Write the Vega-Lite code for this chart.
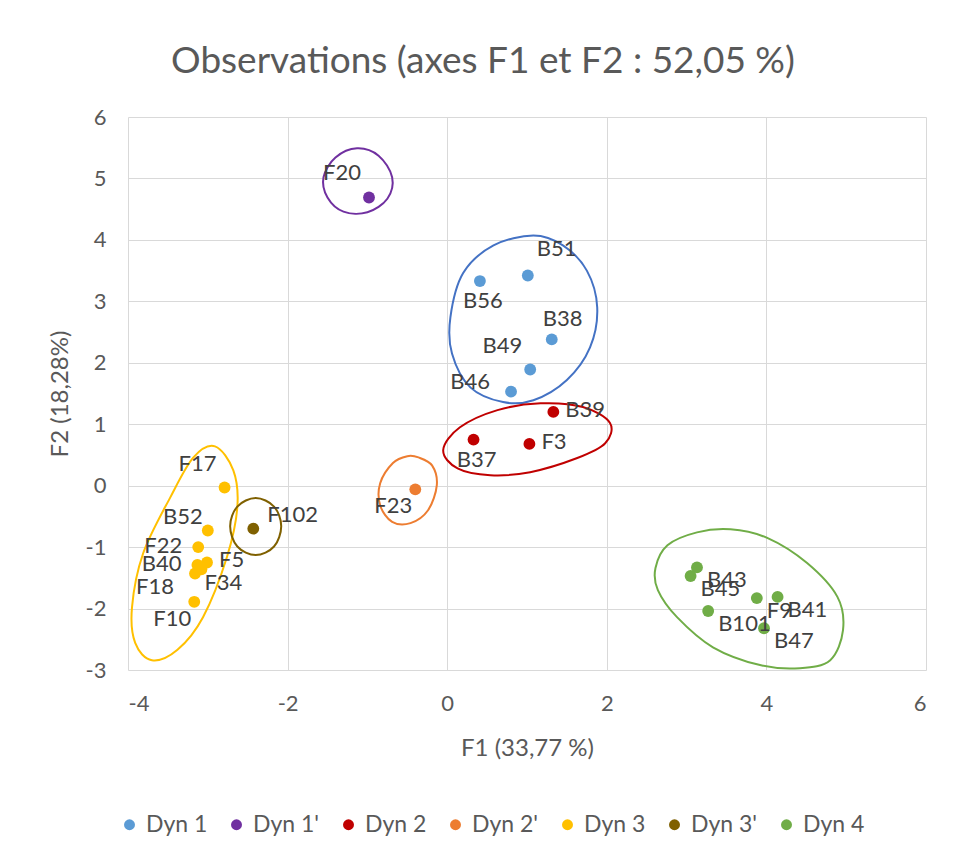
{
  "$schema": "https://vega.github.io/schema/vega-lite/v6.json",
  "width": 798,
  "height": 553,
  "autosize": {"type": "none"},
  "padding": {"left": 128, "top": 117, "right": 29, "bottom": 191},
  "background": "#FFFFFF",
  "title": {"text": "Observations (axes F1 et F2 : 52,05 %)", "anchor": "middle", "frame": "group", "dx": -44, "dy": 46, "offset": 34, "baseline": "bottom", "fontSize": 37, "font": "Lato", "fontWeight": "normal", "color": "#595959"},
  "config": {
    "view": {"stroke": null},
    "font": "Lato",
    "axis": {"grid": true, "gridColor": "#D9D9D9", "gridWidth": 1, "domain": false, "ticks": false, "labelFont": "Lato", "labelFontSize": 22, "labelColor": "#595959", "titleFont": "Lato", "titleFontSize": 24, "titleColor": "#595959", "titleFontWeight": "normal", "labelExpr": "'' + datum.value"}
  },
  "datasets": {
    "pts": [
      {"lab": "B51", "grp": "Dyn 1", "f1": 1.01, "f2": 3.42},
      {"lab": "B56", "grp": "Dyn 1", "f1": 0.41, "f2": 3.33},
      {"lab": "B38", "grp": "Dyn 1", "f1": 1.31, "f2": 2.38},
      {"lab": "B49", "grp": "Dyn 1", "f1": 1.04, "f2": 1.89},
      {"lab": "B46", "grp": "Dyn 1", "f1": 0.80, "f2": 1.53},
      {"lab": "F20", "grp": "Dyn 1'", "f1": -0.98, "f2": 4.69},
      {"lab": "B39", "grp": "Dyn 2", "f1": 1.33, "f2": 1.20},
      {"lab": "B37", "grp": "Dyn 2", "f1": 0.33, "f2": 0.75},
      {"lab": "F3", "grp": "Dyn 2", "f1": 1.03, "f2": 0.68},
      {"lab": "F23", "grp": "Dyn 2'", "f1": -0.40, "f2": -0.06},
      {"lab": "F17", "grp": "Dyn 3", "f1": -2.79, "f2": -0.03},
      {"lab": "B52", "grp": "Dyn 3", "f1": -3.00, "f2": -0.73},
      {"lab": "F22", "grp": "Dyn 3", "f1": -3.12, "f2": -1.00},
      {"lab": "F5", "grp": "Dyn 3", "f1": -3.01, "f2": -1.25},
      {"lab": "B40", "grp": "Dyn 3", "f1": -3.13, "f2": -1.29},
      {"lab": "F34", "grp": "Dyn 3", "f1": -3.08, "f2": -1.36},
      {"lab": "F18", "grp": "Dyn 3", "f1": -3.16, "f2": -1.43},
      {"lab": "F10", "grp": "Dyn 3", "f1": -3.17, "f2": -1.89},
      {"lab": "F102", "grp": "Dyn 3'", "f1": -2.43, "f2": -0.70},
      {"lab": "B43", "grp": "Dyn 4", "f1": 3.13, "f2": -1.33},
      {"lab": "B45", "grp": "Dyn 4", "f1": 3.05, "f2": -1.47},
      {"lab": "F9", "grp": "Dyn 4", "f1": 3.88, "f2": -1.83},
      {"lab": "B41", "grp": "Dyn 4", "f1": 4.14, "f2": -1.81},
      {"lab": "B101", "grp": "Dyn 4", "f1": 3.27, "f2": -2.04},
      {"lab": "B47", "grp": "Dyn 4", "f1": 3.97, "f2": -2.32}
    ],
    "ell": [
      {"ellgrp": "Dyn 1", "k": 1, "f1": 1.08, "f2": 4.07},
      {"ellgrp": "Dyn 1", "k": 2, "f1": 1.45, "f2": 3.91},
      {"ellgrp": "Dyn 1", "k": 3, "f1": 1.75, "f2": 3.50},
      {"ellgrp": "Dyn 1", "k": 4, "f1": 1.88, "f2": 2.90},
      {"ellgrp": "Dyn 1", "k": 5, "f1": 1.79, "f2": 2.25},
      {"ellgrp": "Dyn 1", "k": 6, "f1": 1.50, "f2": 1.72},
      {"ellgrp": "Dyn 1", "k": 7, "f1": 1.08, "f2": 1.39},
      {"ellgrp": "Dyn 1", "k": 8, "f1": 0.70, "f2": 1.36},
      {"ellgrp": "Dyn 1", "k": 9, "f1": 0.29, "f2": 1.60},
      {"ellgrp": "Dyn 1", "k": 10, "f1": 0.06, "f2": 2.15},
      {"ellgrp": "Dyn 1", "k": 11, "f1": 0.04, "f2": 2.74},
      {"ellgrp": "Dyn 1", "k": 12, "f1": 0.20, "f2": 3.46},
      {"ellgrp": "Dyn 1", "k": 13, "f1": 0.58, "f2": 3.91},
      {"ellgrp": "Dyn 1'", "k": 1, "f1": -1.13, "f2": 5.49},
      {"ellgrp": "Dyn 1'", "k": 2, "f1": -0.86, "f2": 5.37},
      {"ellgrp": "Dyn 1'", "k": 3, "f1": -0.69, "f2": 5.02},
      {"ellgrp": "Dyn 1'", "k": 4, "f1": -0.75, "f2": 4.67},
      {"ellgrp": "Dyn 1'", "k": 5, "f1": -1.00, "f2": 4.45},
      {"ellgrp": "Dyn 1'", "k": 6, "f1": -1.30, "f2": 4.46},
      {"ellgrp": "Dyn 1'", "k": 7, "f1": -1.50, "f2": 4.69},
      {"ellgrp": "Dyn 1'", "k": 8, "f1": -1.55, "f2": 5.02},
      {"ellgrp": "Dyn 1'", "k": 9, "f1": -1.40, "f2": 5.34},
      {"ellgrp": "Dyn 2", "k": 1, "f1": -0.05, "f2": 0.58},
      {"ellgrp": "Dyn 2", "k": 2, "f1": 0.16, "f2": 0.95},
      {"ellgrp": "Dyn 2", "k": 3, "f1": 0.63, "f2": 1.23},
      {"ellgrp": "Dyn 2", "k": 4, "f1": 1.17, "f2": 1.34},
      {"ellgrp": "Dyn 2", "k": 5, "f1": 1.70, "f2": 1.28},
      {"ellgrp": "Dyn 2", "k": 6, "f1": 2.04, "f2": 1.02},
      {"ellgrp": "Dyn 2", "k": 7, "f1": 1.98, "f2": 0.69},
      {"ellgrp": "Dyn 2", "k": 8, "f1": 1.63, "f2": 0.45},
      {"ellgrp": "Dyn 2", "k": 9, "f1": 1.04, "f2": 0.22},
      {"ellgrp": "Dyn 2", "k": 10, "f1": 0.54, "f2": 0.17},
      {"ellgrp": "Dyn 2", "k": 11, "f1": 0.13, "f2": 0.28},
      {"ellgrp": "Dyn 2'", "k": 1, "f1": -0.36, "f2": 0.46},
      {"ellgrp": "Dyn 2'", "k": 2, "f1": -0.19, "f2": 0.33},
      {"ellgrp": "Dyn 2'", "k": 3, "f1": -0.13, "f2": 0.01},
      {"ellgrp": "Dyn 2'", "k": 4, "f1": -0.24, "f2": -0.40},
      {"ellgrp": "Dyn 2'", "k": 5, "f1": -0.46, "f2": -0.61},
      {"ellgrp": "Dyn 2'", "k": 6, "f1": -0.69, "f2": -0.59},
      {"ellgrp": "Dyn 2'", "k": 7, "f1": -0.84, "f2": -0.32},
      {"ellgrp": "Dyn 2'", "k": 8, "f1": -0.84, "f2": 0.04},
      {"ellgrp": "Dyn 2'", "k": 9, "f1": -0.68, "f2": 0.37},
      {"ellgrp": "Dyn 2'", "k": 10, "f1": -0.50, "f2": 0.48},
      {"ellgrp": "Dyn 3", "k": 1, "f1": -2.91, "f2": 0.64},
      {"ellgrp": "Dyn 3", "k": 2, "f1": -2.68, "f2": 0.25},
      {"ellgrp": "Dyn 3", "k": 3, "f1": -2.63, "f2": -0.35},
      {"ellgrp": "Dyn 3", "k": 4, "f1": -2.76, "f2": -1.16},
      {"ellgrp": "Dyn 3", "k": 5, "f1": -3.06, "f2": -2.14},
      {"ellgrp": "Dyn 3", "k": 6, "f1": -3.38, "f2": -2.67},
      {"ellgrp": "Dyn 3", "k": 7, "f1": -3.70, "f2": -2.84},
      {"ellgrp": "Dyn 3", "k": 8, "f1": -3.91, "f2": -2.56},
      {"ellgrp": "Dyn 3", "k": 9, "f1": -3.95, "f2": -1.98},
      {"ellgrp": "Dyn 3", "k": 10, "f1": -3.81, "f2": -1.10},
      {"ellgrp": "Dyn 3", "k": 11, "f1": -3.47, "f2": -0.19},
      {"ellgrp": "Dyn 3", "k": 12, "f1": -3.18, "f2": 0.46},
      {"ellgrp": "Dyn 3'", "k": 1, "f1": -2.40, "f2": -0.20},
      {"ellgrp": "Dyn 3'", "k": 2, "f1": -2.17, "f2": -0.34},
      {"ellgrp": "Dyn 3'", "k": 3, "f1": -2.08, "f2": -0.66},
      {"ellgrp": "Dyn 3'", "k": 4, "f1": -2.17, "f2": -0.99},
      {"ellgrp": "Dyn 3'", "k": 5, "f1": -2.40, "f2": -1.13},
      {"ellgrp": "Dyn 3'", "k": 6, "f1": -2.63, "f2": -0.99},
      {"ellgrp": "Dyn 3'", "k": 7, "f1": -2.72, "f2": -0.66},
      {"ellgrp": "Dyn 3'", "k": 8, "f1": -2.63, "f2": -0.34},
      {"ellgrp": "Dyn 4", "k": 1, "f1": 2.61, "f2": -1.34},
      {"ellgrp": "Dyn 4", "k": 2, "f1": 2.76, "f2": -0.97},
      {"ellgrp": "Dyn 4", "k": 3, "f1": 3.13, "f2": -0.76},
      {"ellgrp": "Dyn 4", "k": 4, "f1": 3.55, "f2": -0.71},
      {"ellgrp": "Dyn 4", "k": 5, "f1": 4.01, "f2": -0.85},
      {"ellgrp": "Dyn 4", "k": 6, "f1": 4.51, "f2": -1.26},
      {"ellgrp": "Dyn 4", "k": 7, "f1": 4.89, "f2": -1.81},
      {"ellgrp": "Dyn 4", "k": 8, "f1": 4.96, "f2": -2.35},
      {"ellgrp": "Dyn 4", "k": 9, "f1": 4.80, "f2": -2.84},
      {"ellgrp": "Dyn 4", "k": 10, "f1": 4.42, "f2": -2.97},
      {"ellgrp": "Dyn 4", "k": 11, "f1": 3.92, "f2": -2.92},
      {"ellgrp": "Dyn 4", "k": 12, "f1": 3.33, "f2": -2.63},
      {"ellgrp": "Dyn 4", "k": 13, "f1": 2.88, "f2": -2.14},
      {"ellgrp": "Dyn 4", "k": 14, "f1": 2.64, "f2": -1.70}
    ]
  },
  "encoding": {
    "x": {"field": "f1", "type": "quantitative", "scale": {"domain": [-4, 6], "nice": false, "zero": false}, "axis": {"values": [-4, -2, 0, 2, 4, 6], "title": "F1 (33,77 %)", "labelPadding": 23, "titlePadding": 22}},
    "y": {"field": "f2", "type": "quantitative", "scale": {"domain": [-3, 6], "nice": false, "zero": false}, "axis": {"values": [-3, -2, -1, 0, 1, 2, 3, 4, 5, 6], "title": "F2 (18,28%)", "labelPadding": 22, "titlePadding": 13}}
  },
  "layer": [
    {
      "data": {"name": "ell"},
      "mark": {"type": "line", "interpolate": "cardinal-closed", "strokeWidth": 2},
      "encoding": {
        "stroke": {"field": "ellgrp", "type": "nominal", "legend": null, "scale": {"range": ["#4472C4", "#7030A0", "#C00000", "#ED7D31", "#FFC000", "#7F6000", "#70AD47"]}},
        "detail": {"field": "ellgrp"},
        "order": {"field": "k", "type": "quantitative"}
      }
    },
    {
      "data": {"name": "pts"},
      "mark": {"type": "point", "shape": "circle", "filled": true, "opacity": 1, "size": 140},
      "encoding": {
        "color": {"field": "grp", "type": "nominal", "title": null, "scale": {"domain": ["Dyn 1", "Dyn 1'", "Dyn 2", "Dyn 2'", "Dyn 3", "Dyn 3'", "Dyn 4"], "range": ["#5B9BD5", "#7030A0", "#C00000", "#ED7D31", "#FFC000", "#7F6000", "#70AD47"]},
          "legend": {"orient": "none", "direction": "horizontal", "legendX": -10, "legendY": 696, "symbolType": "circle", "symbolSize": 120, "labelFontSize": 23, "labelFont": "Lato", "labelColor": "#595959", "columnPadding": 17, "labelOffset": 5}}
      }
    },
    {"data": {"name": "pts"}, "transform": [{"filter": {"field": "lab", "oneOf": ["B43", "B45", "F9", "B41", "B101", "B47"]}}], "mark": {"type": "text", "align": "left", "baseline": "middle", "dx": 10, "dy": 13, "fontSize": 22, "font": "Lato", "color": "#404040"}, "encoding": {"text": {"field": "lab"}}},
    {"data": {"name": "pts"}, "transform": [{"filter": {"field": "lab", "oneOf": ["B39", "F3", "F5"]}}], "mark": {"type": "text", "align": "left", "baseline": "middle", "dx": 12, "dy": -2, "fontSize": 22, "font": "Lato", "color": "#404040"}, "encoding": {"text": {"field": "lab"}}},
    {"data": {"name": "pts"}, "transform": [{"filter": {"field": "lab", "oneOf": ["F34"]}}], "mark": {"type": "text", "align": "left", "baseline": "middle", "dx": 3, "dy": 14, "fontSize": 22, "font": "Lato", "color": "#404040"}, "encoding": {"text": {"field": "lab"}}},
    {"data": {"name": "pts"}, "transform": [{"filter": {"field": "lab", "oneOf": ["F102"]}}], "mark": {"type": "text", "align": "left", "baseline": "middle", "dx": 14, "dy": -14, "fontSize": 22, "font": "Lato", "color": "#404040"}, "encoding": {"text": {"field": "lab"}}},
    {"data": {"name": "pts"}, "transform": [{"filter": {"field": "lab", "oneOf": ["B51"]}}], "mark": {"type": "text", "align": "left", "baseline": "middle", "dx": 9, "dy": -27, "fontSize": 22, "font": "Lato", "color": "#404040"}, "encoding": {"text": {"field": "lab"}}},
    {"data": {"name": "pts"}, "transform": [{"filter": {"field": "lab", "oneOf": ["B38"]}}], "mark": {"type": "text", "align": "center", "baseline": "middle", "dx": 11, "dy": -20, "fontSize": 22, "font": "Lato", "color": "#404040"}, "encoding": {"text": {"field": "lab"}}},
    {"data": {"name": "pts"}, "transform": [{"filter": {"field": "lab", "oneOf": ["B56", "B37"]}}], "mark": {"type": "text", "align": "center", "baseline": "middle", "dx": 3, "dy": 20, "fontSize": 22, "font": "Lato", "color": "#404040"}, "encoding": {"text": {"field": "lab"}}},
    {"data": {"name": "pts"}, "transform": [{"filter": {"field": "lab", "oneOf": ["B49", "F20", "F17"]}}], "mark": {"type": "text", "align": "right", "baseline": "middle", "dx": -8, "dy": -24, "fontSize": 22, "font": "Lato", "color": "#404040"}, "encoding": {"text": {"field": "lab"}}},
    {"data": {"name": "pts"}, "transform": [{"filter": {"field": "lab", "oneOf": ["B52"]}}], "mark": {"type": "text", "align": "right", "baseline": "middle", "dx": -5, "dy": -14, "fontSize": 22, "font": "Lato", "color": "#404040"}, "encoding": {"text": {"field": "lab"}}},
    {"data": {"name": "pts"}, "transform": [{"filter": {"field": "lab", "oneOf": ["F22", "B40"]}}], "mark": {"type": "text", "align": "right", "baseline": "middle", "dx": -16, "dy": -1, "fontSize": 22, "font": "Lato", "color": "#404040"}, "encoding": {"text": {"field": "lab"}}},
    {"data": {"name": "pts"}, "transform": [{"filter": {"field": "lab", "oneOf": ["B46"]}}], "mark": {"type": "text", "align": "right", "baseline": "middle", "dx": -21, "dy": -10, "fontSize": 22, "font": "Lato", "color": "#404040"}, "encoding": {"text": {"field": "lab"}}},
    {"data": {"name": "pts"}, "transform": [{"filter": {"field": "lab", "oneOf": ["F18"]}}], "mark": {"type": "text", "align": "right", "baseline": "middle", "dx": -21, "dy": 13, "fontSize": 22, "font": "Lato", "color": "#404040"}, "encoding": {"text": {"field": "lab"}}},
    {"data": {"name": "pts"}, "transform": [{"filter": {"field": "lab", "oneOf": ["F10", "F23"]}}], "mark": {"type": "text", "align": "right", "baseline": "middle", "dx": -3, "dy": 17, "fontSize": 22, "font": "Lato", "color": "#404040"}, "encoding": {"text": {"field": "lab"}}}
  ]
}
